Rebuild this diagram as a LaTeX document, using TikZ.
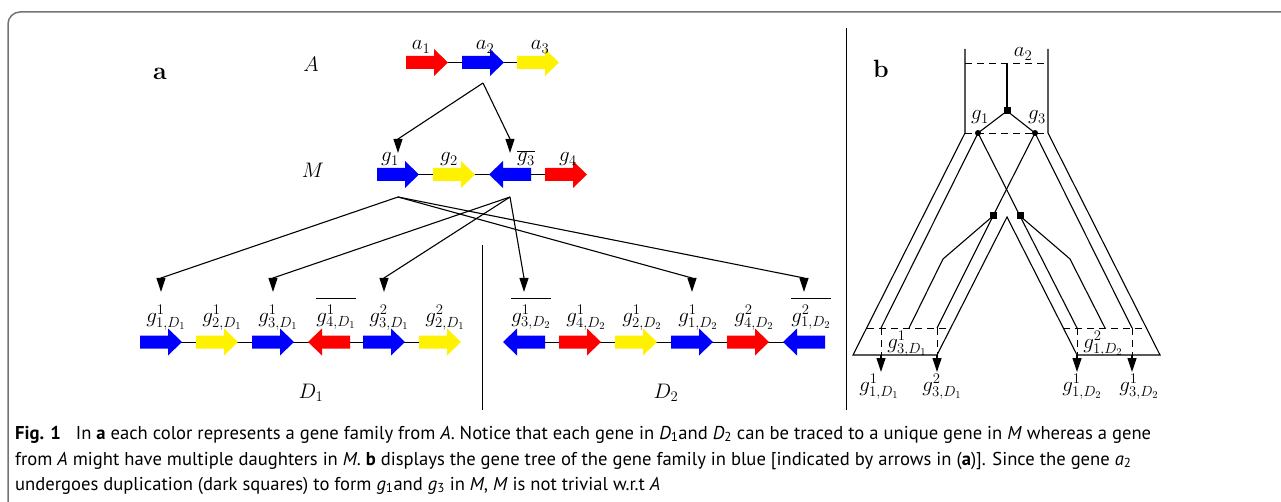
\RequirePackage{fix-cm}
\documentclass[tikz,border=0pt]{standalone}
\usepackage{fontspec}
\newfontfamily\capfont{PT Sans}
\usetikzlibrary{arrows.meta,calc}
\tikzset{
  lab/.style={font=\fontsize{21}{25}\selectfont, inner sep=0pt, anchor=base},
  conn/.style={line width=1.1pt, -{Triangle[length=14pt,width=9pt]}},
  tree/.style={line width=1.1pt},
  dsh/.style={line width=0.9pt, dash pattern=on 7pt off 5pt},
  sq/.style={fill=black, minimum size=7pt, inner sep=0pt},
  gdot/.style={circle, fill=black, minimum size=6pt, inner sep=0pt},
  backbone/.style={line width=1pt},
  captxt/.style={font=\capfont\fontsize{18.6}{22}\selectfont, inner sep=0pt, anchor=base west},
}
\newcommand{\ovl}[1]{\overline{\rule{0pt}{1.06em}#1}}
% right-pointing gene: name, left x, centre y, colour
\newcommand{\geneR}[4]{%
  \fill[#4] (#2,#3-6.5) -- ++(28,0) -- ++(0,-7) -- ++(14,13.5) -- ++(-14,13.5) -- ++(0,-7) -- ++(-28,0) -- cycle;
  \coordinate (#1) at (#2+21,#3);}
% left-pointing gene: name, tip x, centre y, colour
\newcommand{\geneL}[4]{%
  \fill[#4] (#2,#3) -- ++(14,-13.5) -- ++(0,7) -- ++(28,0) -- ++(0,13) -- ++(-28,0) -- ++(0,7) -- cycle;
  \coordinate (#1) at (#2+21,#3);}
\begin{document}
\begin{tikzpicture}[x=1pt,y=-1pt]
\useasboundingbox (0,0) rectangle (1281,502);
% frame
\draw[draw=black!55, line width=1.5pt, rounded corners=12pt] (8,502) -- (8,12) -- (1281,12);

% panel labels
\node[font=\fontsize{25}{29}\selectfont\bfseries, inner sep=0pt, anchor=base] (pa) at (160,80) {a};
\node[font=\fontsize{25}{29}\selectfont\bfseries, inner sep=0pt, anchor=base] (pb) at (881,78) {b};

% row labels
\node[lab] (lA) at (311,72) {$A$};
\node[lab] (lM) at (313,178) {$M$};
\node[lab] (lD1) at (311,398) {$D_1$};
\node[lab] (lD2) at (666,398) {$D_2$};

% backbones
\draw[backbone] (426,62.5) -- (538,62.5);
\draw[backbone] (398,174.5) -- (566,174.5);
\draw[backbone] (161,342) -- (440,342);
\draw[backbone] (524,342) -- (804,342);

% row A
\geneR{a1}{406}{62.5}{red}
\geneR{a2}{462}{62.5}{blue}
\geneR{a3}{517}{62.5}{yellow}
% row M
\geneR{g1}{377}{174.5}{blue}
\geneR{g2}{433}{174.5}{yellow}
\geneL{g3}{489}{174.5}{blue}
\geneR{g4}{545}{174.5}{red}
% row D1
\geneR{d11}{140}{342}{blue}
\geneR{d12}{196}{342}{yellow}
\geneR{d13}{252}{342}{blue}
\geneL{d14}{308}{342}{red}
\geneR{d15}{363}{342}{blue}
\geneR{d16}{419}{342}{yellow}
% row D2
\geneL{d21}{503}{342}{blue}
\geneR{d22}{559}{342}{red}
\geneR{d23}{615}{342}{yellow}
\geneR{d24}{671}{342}{blue}
\geneR{d25}{727}{342}{red}
\geneL{d26}{783}{342}{blue}

% gene labels
\node[lab] (la1) at (421,50) {$a_1$};
\node[lab] (la2) at (485,50) {$a_2$};
\node[lab] (la3) at (540,50) {$a_3$};
\node[lab] (lg1) at (390,162) {$g_1$};
\node[lab] (lg2) at (449,162) {$g_2$};
\node[lab] (lg3) at (526,162) {$\overline{g_3}$};
\node[lab] (lg4) at (568,162) {$g_4$};
\node[lab] (ld11) at (166,322) {$g^1_{1,D_1}$};
\node[lab] (ld12) at (222,322) {$g^1_{2,D_1}$};
\node[lab] (ld13) at (278,322) {$g^1_{3,D_1}$};
\node[lab] (ld14) at (336,322) {$\ovl{g^1_{4,D_1}}$};
\node[lab] (ld15) at (389,322) {$g^2_{3,D_1}$};
\node[lab] (ld16) at (445,322) {$g^2_{2,D_1}$};
\node[lab] (ld21) at (531,322) {$\ovl{g^1_{3,D_2}}$};
\node[lab] (ld22) at (586,322) {$g^1_{4,D_2}$};
\node[lab] (ld23) at (642,322) {$g^1_{2,D_2}$};
\node[lab] (ld24) at (698,322) {$g^1_{1,D_2}$};
\node[lab] (ld25) at (754,322) {$g^2_{4,D_2}$};
\node[lab] (ld26) at (811,322) {$\ovl{g^2_{1,D_2}}$};

% connectors A -> M
\coordinate (aS) at (483,83);
\draw[conn] (aS) -- ($(g1)+(0,-35.5)$) -- ($(g1)+(0,-21.5)$);
\draw[conn] (aS) -- ($(g3)+(0,-35.5)$) -- ($(g3)+(0,-21.5)$);
% connectors M -> D
\coordinate (g1S) at (398,197);
\coordinate (g3S) at (510,197);
\foreach \t in {d11,d24,d26}{
  \draw[conn] (g1S) -- ($(\t)+(0,-64)$) -- ($(\t)+(0,-50)$);
}
\foreach \t in {d13,d15,d21}{
  \draw[conn] (g3S) -- ($(\t)+(0,-64)$) -- ($(\t)+(0,-50)$);
}

% dividers
\draw[line width=1pt] (482,245) -- (482,410);
\draw[line width=1pt] (846,28) -- (846,410);

% ---------- panel b ----------
% species tube
\draw[tree] (965,49) -- (965,133) -- (853,355) -- (937,355) -- (1007,217) -- (1077,355) -- (1160,355) -- (1048,133) -- (1048,49);
\draw[dsh] (965,63) -- (1048,63);
\draw[dsh] (965,133) -- (1048,133);
\draw[dsh] (867,328) -- (951,328);
\draw[dsh] (1063,328) -- (1146,328);
% gene tree nodes
\node[sq] (s0) at (1007,111) {};
\node[sq] (sL) at (993,216) {};
\node[sq] (sR) at (1020,216) {};
\node[gdot] (n1) at (978,133) {};
\node[gdot] (n3) at (1035,133) {};
\coordinate (top) at (1007,63);
\coordinate (e1) at (881,328);
\coordinate (e2) at (909,328);
\coordinate (e3) at (937,328);
\coordinate (e4) at (1077,328);
\coordinate (e5) at (1105,328);
\coordinate (e6) at (1132,328);
\coordinate (kL) at (943,259);
\coordinate (kR) at (1070,259);
\draw[tree] (top) -- (s0.center);
\draw[tree] (s0.center) -- (n1.center);
\draw[tree] (s0.center) -- (n3.center);
\draw[tree] (n1.center) -- (e1);
\draw[tree] (n1.center) -- (sR.center);
\draw[tree] (n3.center) -- (sL.center);
\draw[tree] (n3.center) -- (e6);
\draw[tree] (sL.center) -- (e3);
\draw[tree] (sL.center) -- (kL) -- (e2);
\draw[tree] (sR.center) -- (e4);
\draw[tree] (sR.center) -- (kR) -- (e5);
\foreach \e in {e1,e3,e4,e6}{
  \draw[dsh] (\e) -- ($(\e)+(0,27)$);
  \draw[conn] ($(\e)+(0,27)$) -- ($(\e)+(0,44)$);
}
% labels panel b
\node[lab] (lba2) at (1023,57) {$a_2$};
\node[lab] (lbg1) at (980,120) {$g_1$};
\node[lab] (lbg3) at (1037,120) {$g_3$};
\node[lab] (lb1) at (879,391) {$g^1_{1,D_1}$};
\node[lab] (lb2) at (942,391) {$g^2_{3,D_1}$};
\node[lab] (lb3) at (1082,391) {$g^1_{1,D_2}$};
\node[lab] (lb4) at (1139,391) {$g^1_{3,D_2}$};
\node[lab] (lb5) at (907,348) {$g^1_{3,D_1}$};
\node[lab] (lb6) at (1103,348) {$g^2_{1,D_2}$};

% caption
\node[captxt] (c1) at (15,439) {\textbf{Fig. 1}\hspace{0.8em}In \textbf{a} each color represents a gene family from \textit{A}. Notice that each gene in \textit{D}\textsubscript{1}and \textit{D}\textsubscript{2} can be traced to a unique gene in \textit{M} whereas a gene};
\node[captxt] (c2) at (15,465) {from \textit{A} might have multiple daughters in \textit{M}. \textbf{b} displays the gene tree of the gene family in blue [indicated by arrows in (\textbf{a})]. Since the gene \textit{a}\textsubscript{2}};
\node[captxt] (c3) at (15,490) {undergoes duplication (dark squares) to form \textit{g}\textsubscript{1}and \textit{g}\textsubscript{3} in \textit{M}, \textit{M} is not trivial w.r.t \textit{A}};
\end{tikzpicture}
\end{document}
